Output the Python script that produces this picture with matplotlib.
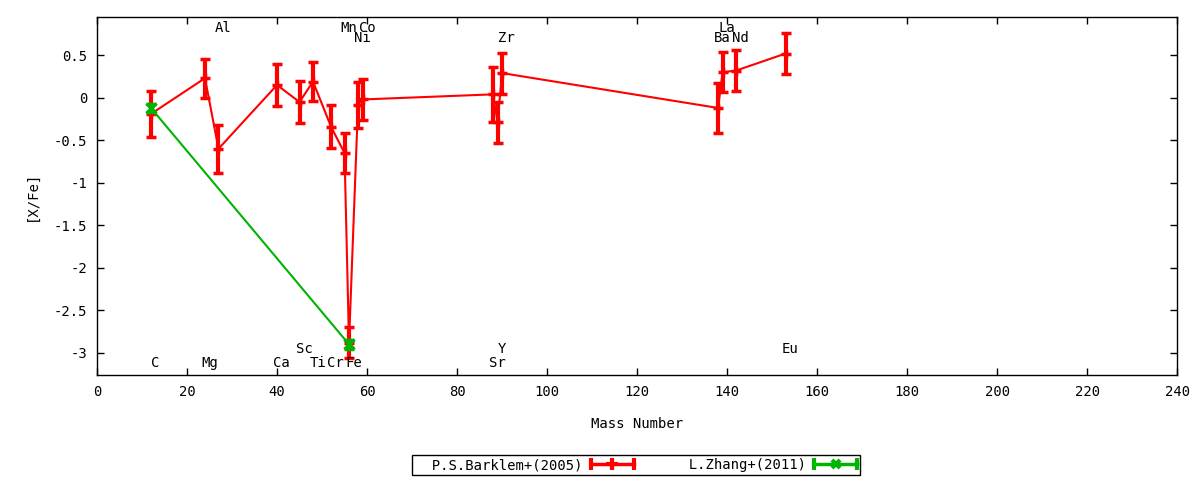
import matplotlib
matplotlib.use("Agg")
import matplotlib.pyplot as plt
from matplotlib.lines import Line2D
from matplotlib.legend_handler import HandlerLine2D, HandlerTuple

# Barklem et al. (2005): mass number of the main isotope, [X/Fe] and error
elements = ["C", "Mg", "Al", "Ca", "Sc", "Ti", "Cr", "Mn", "Fe",
            "Ni", "Co", "Sr", "Y", "Zr", "Ba", "La", "Nd", "Eu"]
mass = [12, 24, 27, 40, 45, 48, 52, 55, 56, 58, 59, 88, 89, 90, 138, 139, 142, 153]
barklem_xfe = [-0.19, 0.23, -0.60, 0.15, -0.05, 0.19, -0.34, -0.65, -2.88,
               -0.08, -0.02, 0.04, -0.29, 0.29, -0.12, 0.30, 0.32, 0.52]
barklem_err = [0.27, 0.23, 0.28, 0.25, 0.25, 0.23, 0.25, 0.23, 0.18,
               0.27, 0.24, 0.32, 0.24, 0.24, 0.29, 0.235, 0.245, 0.24]

# Zhang et al. (2011)
zhang_mass = [12, 56]
zhang_xfe = [-0.12, -2.90]
zhang_err = [0.05, 0.05]

xticks = list(range(0, 241, 20))
yticks = [0.5, 0, -0.5, -1, -1.5, -2, -2.5, -3]

RED = "#ff0000"
GREEN = "#00b400"
FONT = "DejaVu Sans Mono"

plt.rcParams["font.family"] = FONT
plt.rcParams["font.size"] = 10
plt.rcParams["axes.unicode_minus"] = False

# element name rows: which line each label sits on
label_rows = {
    0.82: ["Al", "Mn", "Co", "La"],
    0.70: ["Ni", "Zr", "Ba", "Nd"],
    -2.96: ["Sc", "Y", "Eu"],
    -3.12: ["C", "Mg", "Ca", "Ti", "Cr", "Fe", "Sr"],
}

fig = plt.figure(figsize=(12, 4.8), dpi=100)
ax = fig.add_axes([0.0808, 0.21875, 0.9002, 0.7459])

err_kw = dict(elinewidth=3, capsize=3.4, capthick=2.5, lw=1.5,
              markersize=7, markeredgewidth=2.5)
ax.errorbar(mass, barklem_xfe, yerr=barklem_err, color=RED, marker="+",
            **err_kw, zorder=2)
ax.errorbar(zhang_mass, zhang_xfe, yerr=zhang_err, color=GREEN, marker="x",
            **err_kw, zorder=3)

for yrow, names in label_rows.items():
    for name in names:
        m = mass[elements.index(name)]
        ax.text(m + 1, yrow, name, ha="center", va="center", fontsize=10)

ax.set_xlim(0, 240)
ax.set_ylim(-3.26, 0.95)
ax.set_xticks(xticks)
ax.set_xticklabels([str(t) for t in xticks])
ax.set_yticks(yticks)
ax.set_yticklabels(["%g" % t for t in yticks])
ax.tick_params(direction="in", length=5, width=1, top=True, right=True,
               labelsize=10, pad=7)
for s in ax.spines.values():
    s.set_linewidth(1)

ax.set_xlabel("Mass Number", fontsize=10)
ax.xaxis.set_label_coords(0.5, -0.137)
ax.xaxis.label.set_va("center")
ax.set_ylabel("[X/Fe]", fontsize=10)
ax.yaxis.set_label_coords(-0.060, 0.5)
ax.yaxis.label.set_va("center")

# gnuplot-style legend samples: line with end caps and a centre point
caps_r = Line2D([], [], color=RED, lw=2.5, marker="|", ms=8, mew=3)
pt_r = Line2D([], [], color=RED, ls="none", marker="+", ms=8, mew=3)
caps_g = Line2D([], [], color=GREEN, lw=2.5, marker="|", ms=8, mew=3)
pt_g = Line2D([], [], color=GREEN, ls="none", marker="x", ms=6, mew=3)
hmap = {
    caps_r: HandlerLine2D(numpoints=2, marker_pad=0),
    caps_g: HandlerLine2D(numpoints=2, marker_pad=0),
    pt_r: HandlerLine2D(numpoints=1),
    pt_g: HandlerLine2D(numpoints=1),
    tuple: HandlerTuple(ndivide=1, pad=0),
}
leg = fig.legend([(caps_r, pt_r), (caps_g, pt_g)],
                 ["  P.S.Barklem+(2005)", "  L.Zhang+(2011)"],
                 handler_map=hmap, loc="center",
                 bbox_to_anchor=(0.53, 0.031), bbox_transform=fig.transFigure,
                 ncol=2, markerfirst=False, fancybox=False, framealpha=1,
                 edgecolor="black", borderpad=0.2, handlelength=3.1,
                 handletextpad=0.6, columnspacing=2.75, fontsize=10)
leg.get_frame().set_linewidth(1)

fig.savefig("out.png", dpi=100, facecolor="white")
